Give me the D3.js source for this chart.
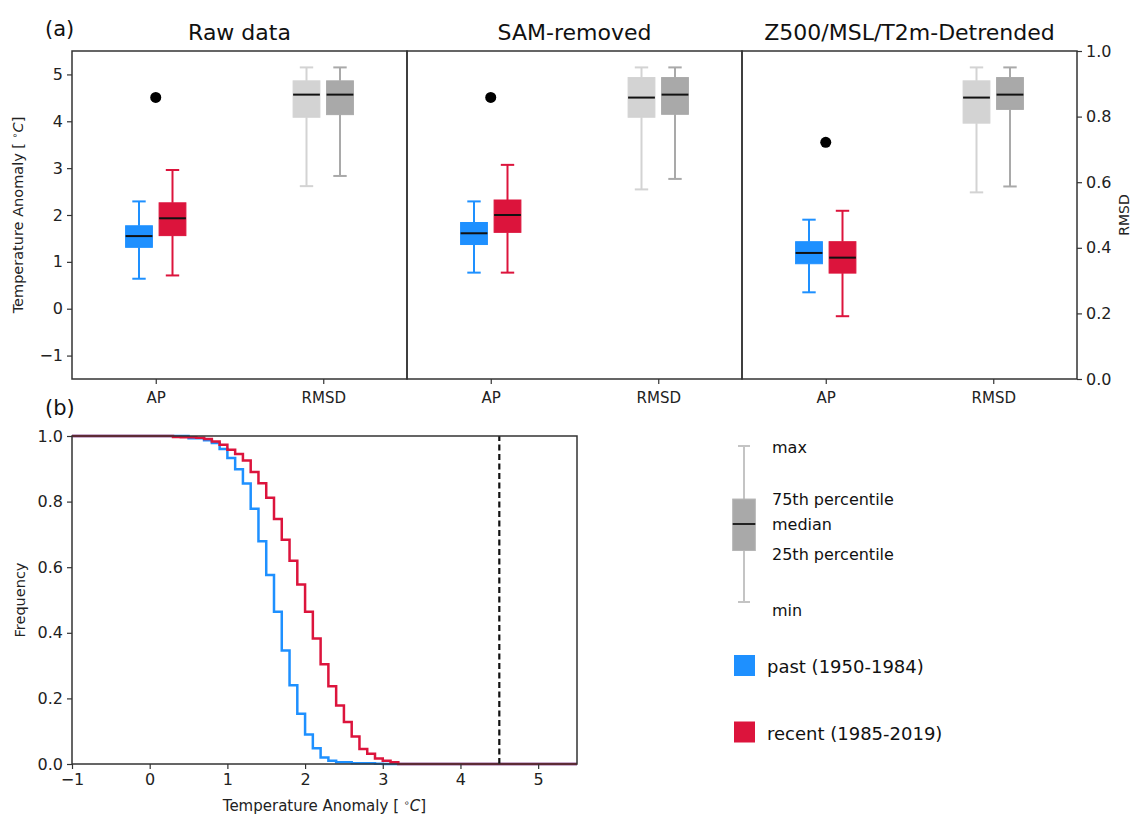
<!DOCTYPE html>
<html>
<head>
<meta charset="utf-8">
<script src="https://cdn.jsdelivr.net/npm/d3@7"></script>
<style>
  html, body { margin: 0; padding: 0; background: #fff; }
  svg { display: block; font-family: "DejaVu Sans", sans-serif; }
</style>
</head>
<body>
<script>
// ---------------- DATA ----------------
const panelTitles = ["Raw data", "SAM-removed", "Z500/MSL/T2m-Detrended"];
const categories = ["AP", "RMSD"];
const seriesNames = ["past (1950-1984)", "recent (1985-2019)"];
// box statistics: [min, q1, median, q3, max]
const apPast = [
  [0.64, 1.31, 1.55, 1.77, 2.29],
  [0.77, 1.37, 1.61, 1.84, 2.29],
  [0.35, 0.96, 1.19, 1.43, 1.90]
];
const apRecent = [
  [0.71, 1.56, 1.93, 2.26, 2.96],
  [0.77, 1.63, 2.00, 2.32, 3.07],
  [-0.16, 0.76, 1.09, 1.43, 2.09]
];
const rmsdPast = [
  [0.588, 0.798, 0.867, 0.909, 0.950],
  [0.578, 0.798, 0.858, 0.919, 0.950],
  [0.569, 0.780, 0.858, 0.909, 0.950]
];
const rmsdRecent = [
  [0.619, 0.806, 0.867, 0.909, 0.950],
  [0.610, 0.807, 0.867, 0.919, 0.950],
  [0.587, 0.822, 0.867, 0.919, 0.950]
];
const observedAP = [4.51, 4.51, 3.55];
const anomTicks = [-1, 0, 1, 2, 3, 4, 5];
const rmsdTicks = [0, 0.2, 0.4, 0.6, 0.8, 1.0];

// exceedance frequency (step curves): bin left edges and values
const pastEdges = [0.5, 0.6, 0.7, 0.8, 0.9, 1.0, 1.1, 1.2, 1.3, 1.4, 1.5, 1.6, 1.7, 1.8, 1.9, 2.0, 2.1, 2.2, 2.3, 2.4, 2.5, 2.6, 2.7, 2.8, 2.9, 3.0];
const pastFreq  = [0.993, 0.993, 0.987, 0.979, 0.960, 0.933, 0.899, 0.855, 0.778, 0.679, 0.576, 0.464, 0.346, 0.240, 0.153, 0.090, 0.048, 0.020, 0.010, 0.005, 0.005, 0.002, 0.002, 0.002, 0.001, 0.000];
const recentEdges = [0.3, 0.4, 0.5, 0.6, 0.7, 0.8, 0.9, 1.0, 1.1, 1.2, 1.3, 1.4, 1.5, 1.6, 1.7, 1.8, 1.9, 2.0, 2.1, 2.2, 2.3, 2.4, 2.5, 2.6, 2.7, 2.8, 2.9, 3.0, 3.1, 3.2];
const recentFreq  = [0.997, 0.996, 0.996, 0.995, 0.991, 0.983, 0.973, 0.958, 0.945, 0.925, 0.890, 0.856, 0.812, 0.747, 0.684, 0.620, 0.547, 0.464, 0.383, 0.304, 0.237, 0.178, 0.128, 0.084, 0.046, 0.031, 0.017, 0.010, 0.005, 0.000];
const observedLine = 4.5;
const cdfXTicks = [-1, 0, 1, 2, 3, 4, 5];
const freqTicks = [0, 0.2, 0.4, 0.6, 0.8, 1.0];

const legendBoxLabels = ["max", "75th percentile", "median", "25th percentile", "min"];
const legendSample = [0, 0.33, 0.5, 0.66, 1]; // schematic box: min,q1,median,q3,max

// ---------------- STYLE ----------------
const colPast = "#1e90ff", colRecent = "#dc143c";
const colRmsdPast = "#d3d3d3", colRmsdRecent = "#a9a9a9";
const frameCol = "#333";
const fmtMinus = d => (d < 0 ? "\u2212" + Math.abs(d) : String(d));

const W = 1131, H = 815;
const svg = d3.select("body").append("svg").attr("width", W).attr("height", H);

// ---------------- TOP PANELS ----------------
const topY0 = 51, topY1 = 379;
const pLeft = 72, pW = 335;
const yA = d3.scaleLinear().domain([-1.5, 5.5]).range([topY1, topY0]);
const yR = d3.scaleLinear().domain([0, 1]).range([topY1, topY0]);
const boxOff = 0.1, boxW = 0.16;

function drawBox(g, x, y, cx, stats, color) {
  const [mn, q1, md, q3, mx] = stats;
  const half = (x(cx + boxW / 2) - x(cx - boxW / 2)) / 2;
  const xc = x(cx);
  const capH = half / 2;
  g.append("line").attr("x1", xc).attr("x2", xc).attr("y1", y(mx)).attr("y2", y(q3))
    .attr("stroke", color).attr("stroke-width", 2);
  g.append("line").attr("x1", xc).attr("x2", xc).attr("y1", y(q1)).attr("y2", y(mn))
    .attr("stroke", color).attr("stroke-width", 2);
  [mn, mx].forEach(v => g.append("line").attr("x1", xc - capH).attr("x2", xc + capH)
    .attr("y1", y(v)).attr("y2", y(v)).attr("stroke", color).attr("stroke-width", 2));
  g.append("rect").attr("x", xc - half).attr("width", 2 * half)
    .attr("y", y(q3)).attr("height", y(q1) - y(q3))
    .attr("fill", color).attr("stroke", color).attr("stroke-width", 1);
  g.append("line").attr("x1", xc - half).attr("x2", xc + half).attr("y1", y(md)).attr("y2", y(md))
    .attr("stroke", "#111").attr("stroke-width", 2);
}

panelTitles.forEach((title, i) => {
  const x0 = pLeft + i * pW;
  const x = d3.scaleLinear().domain([0.5, 2.5]).range([x0, x0 + pW]);
  const g = svg.append("g");

  drawBox(g, x, yA, 1 - boxOff, apPast[i], colPast);
  drawBox(g, x, yA, 1 + boxOff, apRecent[i], colRecent);
  drawBox(g, x, yR, 2 - boxOff, rmsdPast[i], colRmsdPast);
  drawBox(g, x, yR, 2 + boxOff, rmsdRecent[i], colRmsdRecent);

  g.append("circle").attr("cx", x(1)).attr("cy", yA(observedAP[i])).attr("r", 5.5).attr("fill", "#000");

  // frame
  g.append("rect").attr("x", x0).attr("y", topY0).attr("width", pW).attr("height", topY1 - topY0)
    .attr("fill", "none").attr("stroke", frameCol).attr("stroke-width", 1.5);

  // bottom category axis
  const ax = g.append("g").attr("transform", `translate(0,${topY1})`)
    .call(d3.axisBottom(x).tickValues([1, 2]).tickFormat((d, j) => categories[j]).tickSize(5).tickPadding(8));
  ax.select(".domain").remove();
  ax.selectAll("line").attr("stroke", frameCol).attr("stroke-width", 1.2);
  ax.selectAll("text").attr("font-size", 15).attr("fill", "#222").attr("font-family", "DejaVu Sans");

  // title
  svg.append("text").attr("x", x0 + pW / 2).attr("y", 40).attr("text-anchor", "middle")
    .attr("font-size", 22).attr("fill", "#111").text(title);

  if (i === 0) {
    const ay = g.append("g").attr("transform", `translate(${x0},0)`)
      .call(d3.axisLeft(yA).tickValues(anomTicks).tickFormat(fmtMinus).tickSize(5).tickPadding(4));
    ay.select(".domain").remove();
    ay.selectAll("line").attr("stroke", frameCol).attr("stroke-width", 1.2);
    ay.selectAll("text").attr("font-size", 16).attr("fill", "#222").attr("font-family", "DejaVu Sans");
  }
  if (i === 2) {
    const ar = g.append("g").attr("transform", `translate(${x0 + pW},0)`)
      .call(d3.axisRight(yR).tickValues(rmsdTicks).tickFormat(d3.format(".1f")).tickSize(5).tickPadding(4));
    ar.select(".domain").remove();
    ar.selectAll("line").attr("stroke", frameCol).attr("stroke-width", 1.2);
    ar.selectAll("text").attr("font-size", 16).attr("fill", "#222").attr("font-family", "DejaVu Sans");
  }
});

// axis labels top
function tempLabel(sel) {
  sel.append("tspan").text("Temperature Anomaly [ ");
  sel.append("tspan").attr("baseline-shift", "super").attr("font-size", "0.65em").text("\u2218");
  sel.append("tspan").attr("font-style", "italic").text("C");
  sel.append("tspan").text("]");
}
svg.append("text").attr("transform", `translate(23,${(topY0 + topY1) / 2}) rotate(-90)`)
  .attr("text-anchor", "middle").attr("font-size", 14.5).attr("fill", "#222").call(tempLabel);
svg.append("text").attr("transform", `translate(1129,${(topY0 + topY1) / 2}) rotate(-90)`)
  .attr("text-anchor", "middle").attr("font-size", 14).attr("fill", "#222").text("RMSD");

svg.append("text").attr("x", 45).attr("y", 36).attr("font-size", 21).attr("fill", "#111").text("(a)");
svg.append("text").attr("x", 45).attr("y", 415).attr("font-size", 21).attr("fill", "#111").text("(b)");

// ---------------- BOTTOM PANEL ----------------
const bX0 = 72, bX1 = 577, bY0 = 436, bY1 = 764;
const xB = d3.scaleLinear().domain([-1, 5.5]).range([bX0, bX1]);
const yB = d3.scaleLinear().domain([0, 1]).range([bY1, bY0]);
const gb = svg.append("g");

const line = d3.line().x(d => xB(d[0])).y(d => yB(d[1])).curve(d3.curveStepAfter);
function stepPts(edges, vals) {
  const pts = [[-1, 1]];
  edges.forEach((e, k) => pts.push([e, vals[k]]));
  pts.push([5.5, vals[vals.length - 1]]);
  return pts;
}
gb.append("path").attr("d", line(stepPts(pastEdges, pastFreq)))
  .attr("fill", "none").attr("stroke", colPast).attr("stroke-width", 2.5);
gb.append("path").attr("d", line(stepPts(recentEdges, recentFreq)))
  .attr("fill", "none").attr("stroke", colRecent).attr("stroke-width", 2.5);

gb.append("line").attr("x1", xB(observedLine)).attr("x2", xB(observedLine))
  .attr("y1", yB(0)).attr("y2", yB(1))
  .attr("stroke", "#111").attr("stroke-width", 2.2).attr("stroke-dasharray", "6,3.5");

gb.append("rect").attr("x", bX0).attr("y", bY0).attr("width", bX1 - bX0).attr("height", bY1 - bY0)
  .attr("fill", "none").attr("stroke", frameCol).attr("stroke-width", 1.5);

const bxa = gb.append("g").attr("transform", `translate(0,${bY1})`)
  .call(d3.axisBottom(xB).tickValues(cdfXTicks).tickFormat(fmtMinus).tickSize(5).tickPadding(5));
bxa.select(".domain").remove();
bxa.selectAll("line").attr("stroke", frameCol).attr("stroke-width", 1.2);
bxa.selectAll("text").attr("font-size", 16).attr("fill", "#222").attr("font-family", "DejaVu Sans");

const bya = gb.append("g").attr("transform", `translate(${bX0},0)`)
  .call(d3.axisLeft(yB).tickValues(freqTicks).tickFormat(d3.format(".1f")).tickSize(5).tickPadding(4));
bya.select(".domain").remove();
bya.selectAll("line").attr("stroke", frameCol).attr("stroke-width", 1.2);
bya.selectAll("text").attr("font-size", 16).attr("fill", "#222").attr("font-family", "DejaVu Sans");

svg.append("text").attr("x", (bX0 + bX1) / 2).attr("y", 811).attr("text-anchor", "middle")
  .attr("font-size", 15).attr("fill", "#222").call(tempLabel);
svg.append("text").attr("transform", `translate(25,${(bY0 + bY1) / 2}) rotate(-90)`)
  .attr("text-anchor", "middle").attr("font-size", 14.5).attr("fill", "#222").text("Frequency");

// ---------------- LEGEND ----------------
const lg = svg.append("g");
const ly = d3.scaleLinear().domain([0, 1]).range([602, 446]);
const lcx = 744, lhalf = 11.3;
const [lmn, lq1, lmd, lq3, lmx] = legendSample;
lg.append("line").attr("x1", lcx).attr("x2", lcx).attr("y1", ly(lmn)).attr("y2", ly(lmx))
  .attr("stroke", "#c4c4c4").attr("stroke-width", 2);
[lmn, lmx].forEach(v => lg.append("line").attr("x1", lcx - 6).attr("x2", lcx + 6)
  .attr("y1", ly(v)).attr("y2", ly(v)).attr("stroke", "#c4c4c4").attr("stroke-width", 2));
lg.append("rect").attr("x", lcx - lhalf).attr("width", 2 * lhalf).attr("y", ly(lq3)).attr("height", ly(lq1) - ly(lq3))
  .attr("fill", "#a9a9a9").attr("stroke", "#b5b5b5").attr("stroke-width", 1);
lg.append("line").attr("x1", lcx - lhalf).attr("x2", lcx + lhalf).attr("y1", ly(lmd)).attr("y2", ly(lmd))
  .attr("stroke", "#222").attr("stroke-width", 2);

const labelVals = [lmx, lq3, lmd, lq1, lmn];
const labelShift = [7, 6, 6, 9, 14];
legendBoxLabels.forEach((t, k) => {
  lg.append("text").attr("x", 772).attr("y", ly(labelVals[k]) + labelShift[k])
    .attr("font-size", 16).attr("fill", "#111").text(t);
});

const legendColors = [colPast, colRecent];
const legendY = [655, 721.5];
seriesNames.forEach((s, k) => {
  lg.append("rect").attr("x", 734).attr("y", legendY[k]).attr("width", 21).attr("height", 21).attr("fill", legendColors[k]);
  lg.append("text").attr("x", 767).attr("y", legendY[k] + 18).attr("font-size", 18).attr("fill", "#111").text(s);
});
</script>
</body>
</html>
